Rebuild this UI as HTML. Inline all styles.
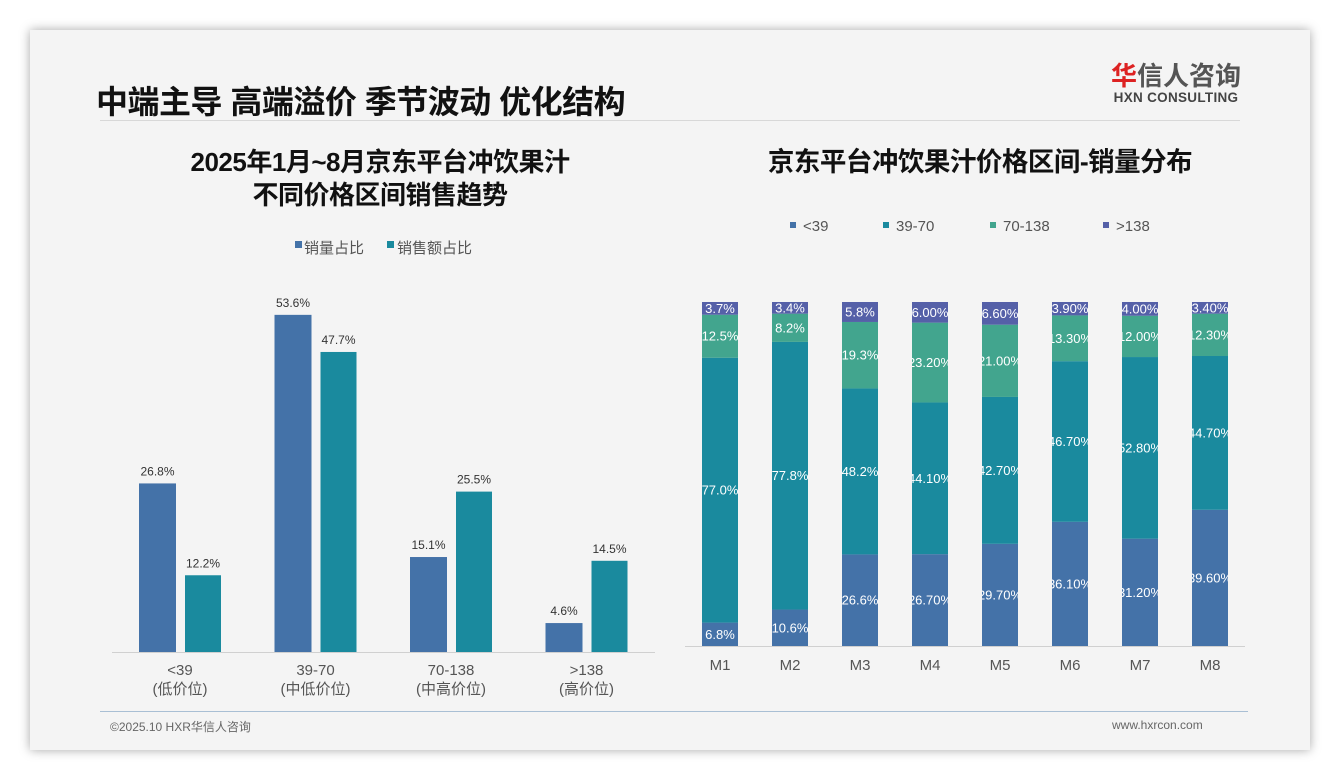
<!DOCTYPE html>
<html><head><meta charset="utf-8">
<style>
body{margin:0;width:1340px;height:780px;background:#fff;position:relative;overflow:hidden;font-family:"Liberation Sans","Noto Sans CJK SC",sans-serif;}
#card{position:absolute;left:30px;top:30px;width:1280px;height:720px;background:#f4f4f4;box-shadow:0 0 10px rgba(0,0,0,.35);}
.abs{position:absolute;}
</style></head><body>
<div id="card"></div>
<div class="abs" style="left:96px;top:77px;font-size:32px;font-weight:bold;color:#111;letter-spacing:-0.5px;">中端主导 高端溢价 季节波动 优化结构</div>
<div class="abs" style="left:1106px;top:62px;width:140px;text-align:center;">
 <div style="font-size:26px;font-weight:bold;color:#555;line-height:28px;"><span style="color:#d22">华</span>信人咨询</div>
 <div style="font-size:13.5px;font-weight:bold;color:#444;letter-spacing:.3px;">HXN CONSULTING</div>
</div>
<div class="abs" style="left:100px;top:120px;width:1140px;height:1px;background:#d8d8d8"></div>
<div class="abs" style="left:100px;top:146px;width:560px;text-align:center;font-size:26px;font-weight:bold;line-height:33px;color:#111;letter-spacing:-0.5px">2025年1月~8月京东平台冲饮果汁<br>不同价格区间销售趋势</div>
<div class="abs" style="left:680px;top:146px;width:600px;text-align:center;font-size:26.5px;font-weight:bold;line-height:33px;color:#111;letter-spacing:-0.5px">京东平台冲饮果汁价格区间-销量分布</div>
<div class="abs" style="left:100px;top:711px;width:1148px;height:1px;background:#a9bfd4"></div>
<div class="abs" style="left:110px;top:718px;font-size:12px;color:#666">©2025.10 HXR华信人咨询</div>
<div class="abs" style="left:1112px;top:718px;font-size:12px;color:#666">www.hxrcon.com</div>
<svg id="chart" class="abs" style="left:0;top:0" width="1340" height="780"></svg>
<script>
const leftCats=["<39","39-70","70-138",">138"];
const leftSub=["(低价位)","(中低价位)","(中高价位)","(高价位)"];
const volShare=[26.8,53.6,15.1,4.6];
const amtShare=[12.2,47.7,25.5,14.5];
const months=["M1","M2","M3","M4","M5","M6","M7","M8"];
const segNames=["<39","39-70","70-138",">138"];
const seg1=[6.8,10.6,26.6,26.7,29.7,36.1,31.2,39.6];
const seg2=[77.0,77.8,48.2,44.1,42.7,46.7,52.8,44.7];
const seg3=[12.5,8.2,19.3,23.2,21.0,13.3,12.0,12.3];
const seg4=[3.7,3.4,5.8,6.0,6.6,3.9,4.0,3.4];
const seg1L=["6.8%","10.6%","26.6%","26.70%","29.70%","36.10%","31.20%","39.60%"];
const seg2L=["77.0%","77.8%","48.2%","44.10%","42.70%","46.70%","52.80%","44.70%"];
const seg3L=["12.5%","8.2%","19.3%","23.20%","21.00%","13.30%","12.00%","12.30%"];
const seg4L=["3.7%","3.4%","5.8%","6.00%","6.60%","3.90%","4.00%","3.40%"];
const svg=document.getElementById('chart');
const NS="http://www.w3.org/2000/svg";
function mk(t,a,p){const e=document.createElementNS(NS,t);for(const k in a)e.setAttribute(k,a[k]);(p||svg).appendChild(e);return e;}
function tx(x,y,s,a,p){const e=mk('text',Object.assign({x:x,y:y,'text-anchor':'middle','font-size':12,fill:'#333','font-family':'Liberation Sans, Noto Sans CJK SC, sans-serif'},a),p);e.textContent=s;return e;}
const defs=mk('defs',{});
// left chart
const lBase=652, lScale=6.29;
const ly=v=>lBase-v*lScale;
const lx=i=>180+i*135.5;
const cBlue="#4472a8", cTeal="#1a8a9e";
let e;
e=mk('line',{x1:112,x2:655,y1:lBase+0.5,y2:lBase+0.5,stroke:'#d0d0d0'});

leftCats.forEach((c,i)=>{
 const x=lx(i);
 e=mk('rect',{x:x-41,y:ly(volShare[i]),width:37,height:volShare[i]*lScale,fill:cBlue});
 
 e=tx(x-22.5,ly(volShare[i])-8,volShare[i].toFixed(1)+'%',{});
 
 e=mk('rect',{x:x+5,y:ly(amtShare[i]),width:36,height:amtShare[i]*lScale,fill:cTeal});
 
 e=tx(x+23,ly(amtShare[i])-8,amtShare[i].toFixed(1)+'%',{});
 
 e=tx(x,675,c,{'font-size':15,fill:'#555'});
 
 e=tx(x,694,leftSub[i],{'font-size':15,fill:'#555'});
 
});
e=mk('rect',{x:295,y:241,width:7,height:7,fill:cBlue});
e=tx(304,253,'销量占比',{'text-anchor':'start','font-size':15,fill:'#555'});
e=mk('rect',{x:387,y:241,width:7,height:7,fill:cTeal});
e=tx(397,253,'销售额占比',{'text-anchor':'start','font-size':15,fill:'#555'});
// right stacked chart
const rBase=646, rTop=302, rH=rBase-rTop;
const ry=v=>rBase-v/100*rH;
const rx=i=>720+i*70;
const segs=[seg1,seg2,seg3,seg4], segL=[seg1L,seg2L,seg3L,seg4L];
const sc=["#4472a8","#1a8a9e","#42a58e","#5560a8"];
e=mk('line',{x1:685,x2:1245,y1:rBase+0.5,y2:rBase+0.5,stroke:'#d0d0d0'});

months.forEach((m,i)=>{
 const cp=mk('clipPath',{id:'cp'+i},defs);
 mk('rect',{x:rx(i)-18,y:rTop,width:36,height:rH},cp);
 const g=mk('g',{'clip-path':'url(#cp'+i+')'});
 let tot=segs.reduce((s,a)=>s+a[i],0), cum=0;
 segs.forEach((a,k)=>{
  const v=a[i]/tot*100;
  const y0=ry(cum), y1=ry(cum+v);
  e=mk('rect',{x:rx(i)-18,y:y1,width:36,height:y0-y1,fill:sc[k]},g);
  
  e=tx(rx(i),(y0+y1)/2+4.5,segL[k][i],{fill:'#fff','font-size':13},g);
  
  cum+=v;
 });
 e=tx(rx(i),670,m,{'font-size':15,fill:'#555'});
 
});
const lgx=[790,883,990,1103];
segNames.forEach((n,k)=>{
 e=mk('rect',{x:lgx[k],y:222,width:6,height:6,fill:sc[k]});
 e=tx(lgx[k]+13,231,n,{'text-anchor':'start','font-size':15,fill:'#555'});
});
</script>
</body></html>
